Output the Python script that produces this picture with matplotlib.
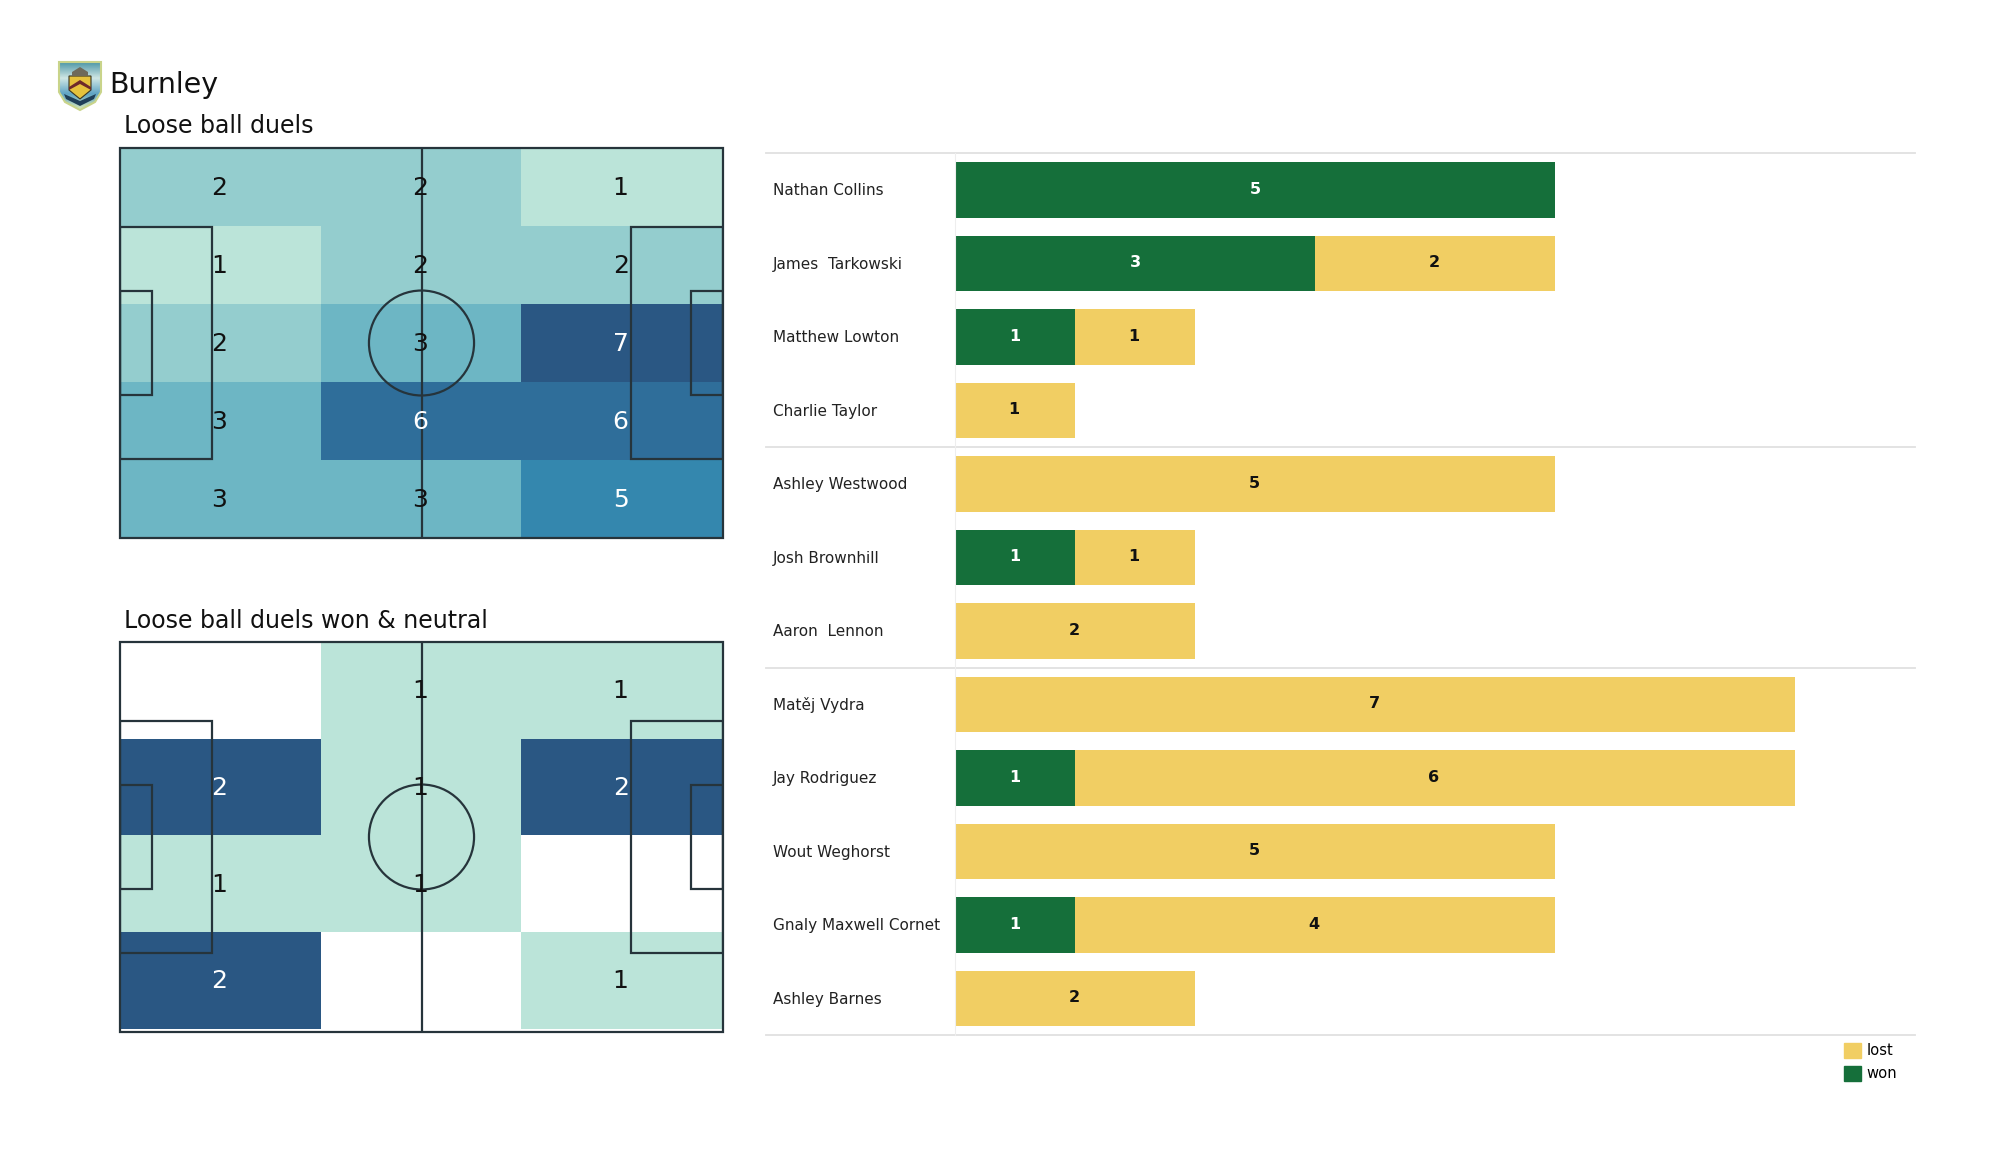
import numpy as np
import matplotlib
matplotlib.use("Agg")
import matplotlib.pyplot as plt
from matplotlib.colors import LinearSegmentedColormap, Normalize
from matplotlib.patches import Rectangle, Circle, Polygon, PathPatch, Patch
from matplotlib.path import Path

# ---------- data ----------
team = "Burnley"
title_all = "Loose ball duels"
title_won = "Loose ball duels won & neutral"

duels_all = [[2, 2, 1],
             [1, 2, 2],
             [2, 3, 7],
             [3, 6, 6],
             [3, 3, 5]]
duels_won = [[0, 1, 1],
             [2, 1, 2],
             [1, 1, 0],
             [2, 0, 1]]

players = ["Nathan Collins", "James  Tarkowski", "Matthew Lowton", "Charlie Taylor",
           "Ashley Westwood", "Josh Brownhill", "Aaron  Lennon",
           "Matěj Vydra", "Jay Rodriguez", "Wout Weghorst", "Gnaly Maxwell Cornet", "Ashley Barnes"]
won = [5, 3, 1, 0, 0, 1, 0, 0, 1, 0, 1, 0]
lost = [0, 2, 1, 1, 5, 1, 2, 7, 6, 5, 4, 2]
group_ends = [3, 6]

# ---------- style ----------
W, H = 2000, 1175
GREEN, YELLOW = "#156F3A", "#F1CE63"
LINE = "#26343B"
GRID = "#E0E0E0"
cmap = LinearSegmentedColormap.from_list(
    "duels", [(0, "#BBE4D9"), (1/6, "#94CDCE"), (2/6, "#6DB6C4"),
              (4/6, "#3487AE"), (5/6, "#2F6E9A"), (1, "#2A5783")])
cmap.set_under("white")

fig = plt.figure(figsize=(20, 11.75), dpi=100, facecolor="white")


def px_axes(x0, y0, x1, y1):
    return fig.add_axes([x0 / W, 1 - y1 / H, (x1 - x0) / W, (y1 - y0) / H])


def draw_pitch(ax, grid, vmax, white_from, bottom, text_dy):
    grid = np.array(grid)
    rows, cols = grid.shape
    xe = np.linspace(0, 104.8, cols + 1)
    ye = np.linspace(68, bottom, rows + 1)
    ax.pcolormesh(xe, ye, grid, cmap=cmap, norm=Normalize(1, vmax), zorder=1, linewidth=0)
    kw = dict(fill=False, ec=LINE, lw=1.6, zorder=2)
    ax.add_patch(Rectangle((0, 0), 105, 68, clip_on=False, **kw))
    ax.plot([52.5, 52.5], [0, 68], color=LINE, lw=1.6, zorder=2)
    ax.add_patch(Circle((52.5, 34), 9.15, **kw))
    for x in (0, 105 - 16):
        ax.add_patch(Rectangle((x, 34 - 20.15), 16, 40.3, **kw))
    for x in (0, 105 - 5.5):
        ax.add_patch(Rectangle((x, 34 - 9.15), 5.5, 18.3, **kw))
    for r in range(rows):
        for c in range(cols):
            v = grid[r, c]
            if v > 0:
                ax.text((xe[c] + xe[c + 1]) / 2 - 0.15, (ye[r] + ye[r + 1]) / 2 + text_dy, str(v),
                        ha="center", va="center", fontsize=18, zorder=3,
                        color="white" if v >= white_from else "#111111")
    ax.set_xlim(0, 105)
    ax.set_ylim(0, 68)
    ax.axis("off")


ax1 = px_axes(120, 148, 723, 538)
draw_pitch(ax1, duels_all, 7, 5, 0, -0.25)
ax2 = px_axes(120, 642, 723, 1032)
draw_pitch(ax2, duels_won, 2, 2, 0.6, -0.2)

fig.text(109.5 / W, 1 - 85 / H, team, fontsize=20.5, va="center", ha="left", color="#111111")
fig.text(124 / W, 1 - 126 / H, title_all, fontsize=17, va="center", ha="left", color="#111111")
fig.text(124 / W, 1 - 621 / H, title_won, fontsize=17, va="center", ha="left", color="#111111")

# ---------- bars ----------
ax = px_axes(955, 153.25, 1915, 1035.25)
y = np.arange(len(players))
won_a, lost_a = np.array(won), np.array(lost)
ax.barh(y, won_a, height=0.75, color=GREEN, zorder=2, label="won")
ax.barh(y, lost_a, left=won_a, height=0.75, color=YELLOW, zorder=2, label="lost")
for i in y:
    if won_a[i]:
        ax.text(won_a[i] / 2, i - 0.01, str(won_a[i]), ha="center", va="center",
                color="white", fontweight="bold", fontsize=11.5, zorder=3)
    if lost_a[i]:
        ax.text(won_a[i] + lost_a[i] / 2 - 0.008, i - 0.01, str(lost_a[i]), ha="center", va="center",
                color="#111111", fontweight="bold", fontsize=11.5, zorder=3)
ax.set_xlim(0, 8)
ax.set_ylim(len(players) - 0.5, -0.5)
ax.set_xticks([])
ax.set_yticks(y - 0.013, players, fontsize=11, color="#222222", ha="left")
ax.tick_params(axis="y", length=0, pad=131)
for s in ("top", "right", "bottom"):
    ax.spines[s].set_visible(False)
ax.spines["left"].set_color("#EEEEEE")
trans = ax.get_yaxis_transform()
for yy in [-0.5] + [g + 0.5 for g in group_ends] + [len(players) - 0.5]:
    ax.plot([-189 / 960, 1], [yy, yy], transform=trans, color=GRID, lw=1.3,
            clip_on=False, zorder=1)

handles = [Patch(color=YELLOW, label="lost"), Patch(color=GREEN, label="won")]
fig.legend(handles=handles, loc="upper left", bbox_to_anchor=(1844 / W, 1 - 1043 / H),
           frameon=False, fontsize=10.6, handlelength=1.15, handleheight=1.15,
           handletextpad=0.36, labelspacing=0.52, borderpad=0, borderaxespad=0)

# ---------- crest ----------
lg = px_axes(57, 60, 103, 112)
lg.set_xlim(57, 103)
lg.set_ylim(112, 60)
lg.axis("off")
shield = Path([(59, 62), (101, 62), (101, 92), (95, 102), (80, 110), (65, 102), (59, 92), (59, 62)],
              [Path.MOVETO] + [Path.LINETO] * 6 + [Path.CLOSEPOLY])
lg.add_patch(PathPatch(shield, fc="none", ec="#C9D48A", lw=1.5, zorder=3))
img = lg.imshow(np.linspace(0, 1, 64)[:, None], extent=(59, 101, 110, 62), aspect="auto", zorder=1,
                cmap=LinearSegmentedColormap.from_list(
                    "sky", ["#4F98A8", "#CFE6E4", "#5FA4C4", "#D9E8B8"]))
img.set_clip_path(PathPatch(shield, transform=lg.transData))
lg.set_xlim(57, 103)
lg.set_ylim(112, 60)
lg.add_patch(Polygon([(69, 76), (91, 76), (91, 90), (80, 99), (69, 90)], fc="#E6C23C", ec="#3A3520", lw=0.8, zorder=4))
lg.add_patch(Polygon([(69, 87), (80, 80), (91, 87), (91, 90), (80, 84), (69, 90)], fc="#6E2A2A", ec="none", zorder=5))
lg.add_patch(Polygon([(64, 94), (71, 97), (80, 101), (89, 97), (96, 94), (94, 99), (80, 106), (66, 99)],
                     fc="#1F3F58", ec="none", zorder=5))
lg.add_patch(Polygon([(72, 72), (80, 67), (88, 72), (88, 76), (72, 76)], fc="#6F6A5A", ec="none", zorder=5))

fig.savefig("out.png", dpi=100, facecolor="white")
